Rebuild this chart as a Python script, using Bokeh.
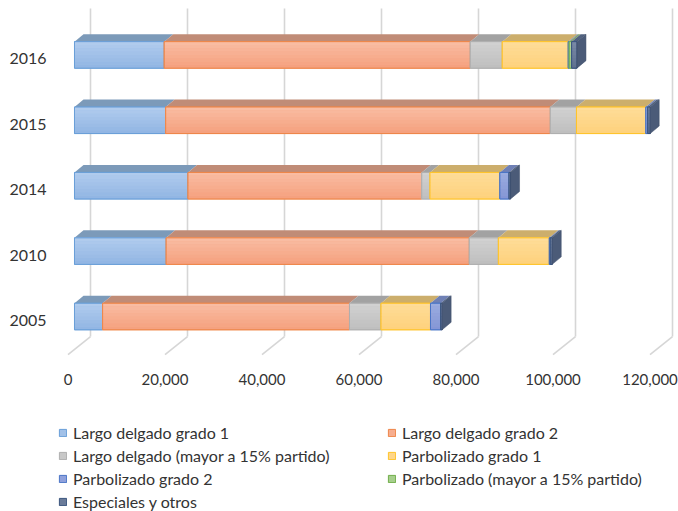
import numpy as np
from bokeh.plotting import figure
from bokeh.models import Range1d, FixedTicker, Legend, LegendItem
from bokeh.core.properties import value
from bokeh.embed import file_html
from bokeh.resources import INLINE

# ---------------- data ----------------
years = ["2005", "2010", "2014", "2015", "2016"]
series_names = [
    "Largo delgado grado 1",
    "Largo delgado grado 2",
    "Largo delgado (mayor a 15% partido)",
    "Parbolizado grado 1",
    "Parbolizado grado 2",
    "Parbolizado (mayor a 15% partido)",
    "Especiales y otros",
]
largo_delgado_g1 = [5800, 18900, 23400, 18800, 18500]
largo_delgado_g2 = [50900, 62500, 48200, 79300, 63100]
largo_delgado_mayor15 = [6500, 6000, 1700, 5400, 6600]
parbolizado_g1 = [10200, 10500, 14400, 14300, 13600]
parbolizado_g2 = [2100, 200, 1900, 400, 200]
parbolizado_mayor15 = [0, 0, 0, 0, 500]
especiales_otros = [300, 400, 300, 500, 1100]
x_ticks = [0, 20000, 40000, 60000, 80000, 100000, 120000]
x_tick_labels = ["0", "20,000", "40,000", "60,000", "80,000", "100,000", "120,000"]

values = [largo_delgado_g1, largo_delgado_g2, largo_delgado_mayor15,
          parbolizado_g1, parbolizado_g2, parbolizado_mayor15, especiales_otros]

# ---------------- styles ----------------
# (gradient top, gradient bottom, legend/mid fill, border, top face)
styles = [
    ("#B2CDEE", "#90B4E3", "#A2C1E8", "#6A9FD8", "#7C9AB9"),
    ("#F9BEA5", "#F59F7C", "#F7AE8F", "#EE8649", "#C08C77"),
    ("#D2D2D2", "#BEBEBE", "#C8C8C8", "#AFAFAF", "#A2A2A2"),
    ("#FEDD9A", "#FED17B", "#FED68A", "#FFC42A", "#CCAE6C"),
    ("#9CADE0", "#8395D5", "#8FA1DC", "#4A75C6", "#6F80B5"),
    ("#B2D69A", "#9AC57E", "#A6CF8C", "#72AE4A", "#80A06C"),
    ("#7A8AA6", "#5E6F8F", "#6A7B99", "#3B557F", "#51627F"),
]
side_color = "#4B5B78"
grid_color = "#D6D6D6"
text_color = "#333333"
FONT = "Lato"

# pixel -> data conversions (4.85 px per 1000, 65.4 px per category)
XS = 1000 / 4.85
YS = 1 / 65.4
front_off = 6.5 * XS      # bar front face relative to floor front
back_off = 22.5 * XS      # back wall relative to floor front
dx = 9 * XS               # bar depth (x)
dy = 7.5 * YS             # bar depth (y)
bar_h = 26.5 * YS
ctr_off = 4 * YS
grid_top = 4.771
floor_back = -0.245
floor_front = -0.52
label_y = -0.902

p = figure(width=678, height=511,
           x_range=Range1d(-2371, 125876), y_range=Range1d(-2.920, 4.893),
           output_backend="svg", toolbar_location=None, x_axis_location=None,
           min_border_left=56, min_border_right=0, min_border_top=0, min_border_bottom=0)
p.outline_line_color = None
p.xgrid.visible = False
p.ygrid.visible = False
p.background_fill_color = "white"
p.border_fill_color = "white"

# back wall gridlines and floor lines
gx = np.array(x_ticks, dtype=float)
p.segment(x0=gx + back_off, y0=[floor_back] * len(gx), x1=gx + back_off, y1=[grid_top] * len(gx),
          line_color=grid_color, line_width=1.6)
p.segment(x0=gx + back_off, y0=[floor_back] * len(gx), x1=gx, y1=[floor_front] * len(gx),
          line_color=grid_color, line_width=1.6)

# value axis labels (at floor front)
p.text(x=x_ticks, y=[label_y] * len(x_ticks), text=x_tick_labels,
       text_font=value(FONT), text_font_size="15px", text_color=text_color,
       text_align="center", text_baseline="middle")

ypos = np.arange(len(years), dtype=float)
cum = np.zeros(len(years))
legend_items = []
NB = 8
for si, vals in enumerate(values):
    v = np.array(vals, dtype=float)
    left = cum + front_off
    right = cum + v + front_off
    cum = cum + v
    mask = v > 0
    l, r, yc = left[mask], right[mask], ypos[mask] + ctr_off
    bot, top = yc - bar_h / 2, yc + bar_h / 2
    gt, gb, mid, border, topc = styles[si]
    # top face
    p.patches(xs=[[a, b, b + dx, a + dx] for a, b in zip(l, r)],
              ys=[[t, t, t + dy, t + dy] for t in top],
              fill_color=topc, line_color=None)
    # base front face (legend glyph)
    base = p.quad(left=l, right=r, bottom=bot, top=top, fill_color=mid, line_color=border, line_width=1)
    # gradient bands
    c1 = np.array([int(gt[i:i + 2], 16) for i in (1, 3, 5)])
    c2 = np.array([int(gb[i:i + 2], 16) for i in (1, 3, 5)])
    for k in range(NB):
        f = (k + 0.5) / NB
        c = (c1 * (1 - f) + c2 * f).round().astype(int)
        col = "#%02X%02X%02X" % tuple(c)
        bt = top - (top - bot) * k / NB
        bb = top - (top - bot) * (k + 1) / NB
        p.quad(left=l, right=r, bottom=bb, top=bt, fill_color=col, line_color=None)
    p.quad(left=l, right=r, bottom=bot, top=top, fill_color=None, line_color=border, line_width=1)
    legend_items.append(LegendItem(label=series_names[si], renderers=[base]))

# right side face of each bar
ends = cum + front_off
yc = ypos + ctr_off
bot, top = yc - bar_h / 2, yc + bar_h / 2
p.patches(xs=[[e, e + dx, e + dx, e] for e in ends],
          ys=[[b, b + dy, t + dy, t] for b, t in zip(bot, top)],
          fill_color=side_color, line_color="#3B4A66", line_width=0.5)

# category axis
ya = p.yaxis[0]
ya.ticker = FixedTicker(ticks=list(range(len(years))))
ya.major_label_overrides = {i: y for i, y in enumerate(years)}
ya.axis_line_color = None
ya.major_tick_line_color = None
ya.minor_tick_line_color = None
ya.major_label_text_font = FONT
ya.major_label_text_font_size = "16px"
ya.major_label_text_color = text_color
ya.major_label_standoff = 4

legend = Legend(items=legend_items, orientation="horizontal", ncols=2,
                location=(2, 0), margin=0, padding=0, spacing=3,
                glyph_width=9, glyph_height=9, label_standoff=6,
                label_width=311, label_height=20,
                label_text_font=FONT, label_text_font_size="16px",
                label_text_color=text_color,
                border_line_color=None, background_fill_alpha=0)
p.add_layout(legend)

open("out.html", "w").write(file_html(p, INLINE))
